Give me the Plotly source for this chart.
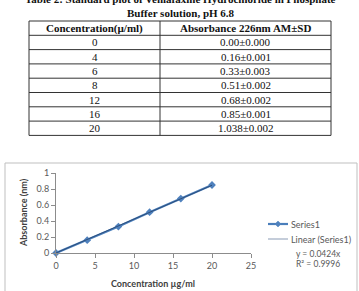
import plotly.graph_objects as go
import numpy as np

W, H = 359, 291

# ---- data ----
title_line1 = "Table 2: Standard plot of Venlafaxine Hydrochloride in Phosphate"
title_line2 = "Buffer solution, pH 6.8"
table_headers = ["Concentration(\u00b5/ml)", "Absorbance 226nm AM\u00b1SD"]
table_conc = ["0", "4", "6", "8", "12", "16", "20"]
table_abs = ["0.00\u00b10.000", "0.16\u00b10.001", "0.33\u00b10.003", "0.51\u00b10.002",
             "0.68\u00b10.002", "0.85\u00b10.001", "1.038\u00b10.002"]

conc = [0, 4, 8, 12, 16, 20]
absorb = [0, 0.16, 0.33, 0.51, 0.68, 0.85]
series_name = "Series1"
trend_name = "Linear (Series1)"
slope_label = "y = 0.0424x"
r2_label = "R\u00b2 = 0.9996"

xc = np.array(conc, dtype=float)
yc = np.array(absorb, dtype=float)
slope = float((xc * yc).sum() / (xc * xc).sum())
trend_x = [min(conc), max(conc)]
trend_y = [slope * v for v in trend_x]

series_color = "#4a7ebb"
marker_color = "#4f81bd"
trend_color = "#2d4f7c"


def X(px):
    return px / W


def Y(py):
    return 1 - py / H


serif = "Liberation Serif"
sans = "Lato"
ink = "#111111"


def ann(text, px, py, size, family, color=ink, xanchor="center", angle=0):
    return dict(text=text, x=X(px), y=Y(py), xref="paper", yref="paper",
                xanchor=xanchor, yanchor="middle", showarrow=False, textangle=angle,
                font=dict(family=family, size=size, color=color))


def hline(x0, x1, py, color, width):
    return dict(type="line", xref="paper", yref="paper",
                x0=X(x0), x1=X(x1), y0=Y(py), y1=Y(py),
                line=dict(color=color, width=width))


fig = go.Figure()

fig.add_trace(go.Scatter(
    x=conc, y=absorb, mode="lines+markers", name=series_name,
    line=dict(color=series_color, width=2.2),
    marker=dict(symbol="diamond", size=6, color=marker_color),
    cliponaxis=False,
))
fig.add_trace(go.Scatter(
    x=trend_x, y=trend_y, mode="lines", name=trend_name,
    line=dict(color=trend_color, width=1),
    cliponaxis=False,
))

axis_common = dict(showline=True, linecolor="#8c8c8c", linewidth=1,
                   ticks="outside", ticklen=4, tickcolor="#8c8c8c",
                   showgrid=False, zeroline=False,
                   tickfont=dict(family=sans, size=9, color="#595959"))

# ---- table geometry ----
tbl_left, tbl_mid, tbl_right = 29, 160, 331
tbl_top, row_h = 21, 14.3
n_rows = len(table_conc) + 1
shapes = []
for i in range(n_rows + 1):
    shapes.append(hline(tbl_left, tbl_right, tbl_top + i * row_h, "#333333", 1))
for xx in (tbl_left, tbl_mid, tbl_right):
    shapes.append(dict(type="line", xref="paper", yref="paper",
                       x0=X(xx), x1=X(xx), y0=Y(tbl_top), y1=Y(tbl_top + n_rows * row_h),
                       line=dict(color="#333333", width=1)))

annotations = []
col_centers = [(tbl_left + tbl_mid) / 2, (tbl_mid + tbl_right) / 2]
for c, h in enumerate(table_headers):
    annotations.append(ann("<b>%s</b>" % h, col_centers[c], tbl_top + row_h / 2, 11, serif))
for r, (a, b) in enumerate(zip(table_conc, table_abs)):
    yy = tbl_top + (r + 1.5) * row_h
    for c, v in enumerate((a, b)):
        annotations.append(ann(v, col_centers[c], yy, 11, serif))

# chart frame
shapes.append(dict(type="rect", xref="paper", yref="paper",
                   x0=X(5), x1=X(357), y0=Y(300), y1=Y(163),
                   line=dict(color="#bfbfbf", width=1)))

# manual legend
lg_x0, lg_x1, lg_y1, lg_y2 = 268, 288, 224, 239
shapes.append(hline(lg_x0, lg_x1, lg_y1, series_color, 2.2))
mx, d = (lg_x0 + lg_x1) / 2, 3
shapes.append(dict(type="path", xref="paper", yref="paper",
                   path="M%f,%f L%f,%f L%f,%f L%f,%f Z" % (
                       X(mx - d), Y(lg_y1), X(mx), Y(lg_y1 - d),
                       X(mx + d), Y(lg_y1), X(mx), Y(lg_y1 + d)),
                   fillcolor=marker_color, line=dict(color=marker_color, width=0.5)))
shapes.append(hline(lg_x0, lg_x1, lg_y2, "#8a9bb5", 1))

annotations += [
    ann("<b>%s</b>" % title_line1, 180, -1, 11, serif),
    ann("<b>%s</b>" % title_line2, 181, 13, 11, serif),
    ann("<b>Concentration \u00b5g/ml</b>", 153, 283, 9, sans, "#404040"),
    ann("<b>Absorbance (nm)</b>", 23, 213, 9, sans, "#404040", angle=-90),
    ann(series_name, 289, lg_y1, 9, sans, "#595959", xanchor="left"),
    ann(trend_name, 289, lg_y2, 9, sans, "#595959", xanchor="left"),
    ann(slope_label, 294, 254, 8.5, sans, "#595959", xanchor="left"),
    ann(r2_label, 294, 264, 8.5, sans, "#595959", xanchor="left"),
]

fig.update_layout(
    width=W, height=H,
    margin=dict(l=0, r=0, t=0, b=0, autoexpand=False),
    paper_bgcolor="white", plot_bgcolor="rgba(0,0,0,0)",
    xaxis=dict(domain=[X(56), X(251)], range=[0, 25], dtick=5,
               anchor="y", **axis_common),
    yaxis=dict(domain=[Y(253), Y(173)], range=[0, 1], dtick=0.2,
               anchor="x", **axis_common),
    showlegend=False,
    shapes=shapes,
    annotations=annotations,
)

fig.write_html("out.html")
